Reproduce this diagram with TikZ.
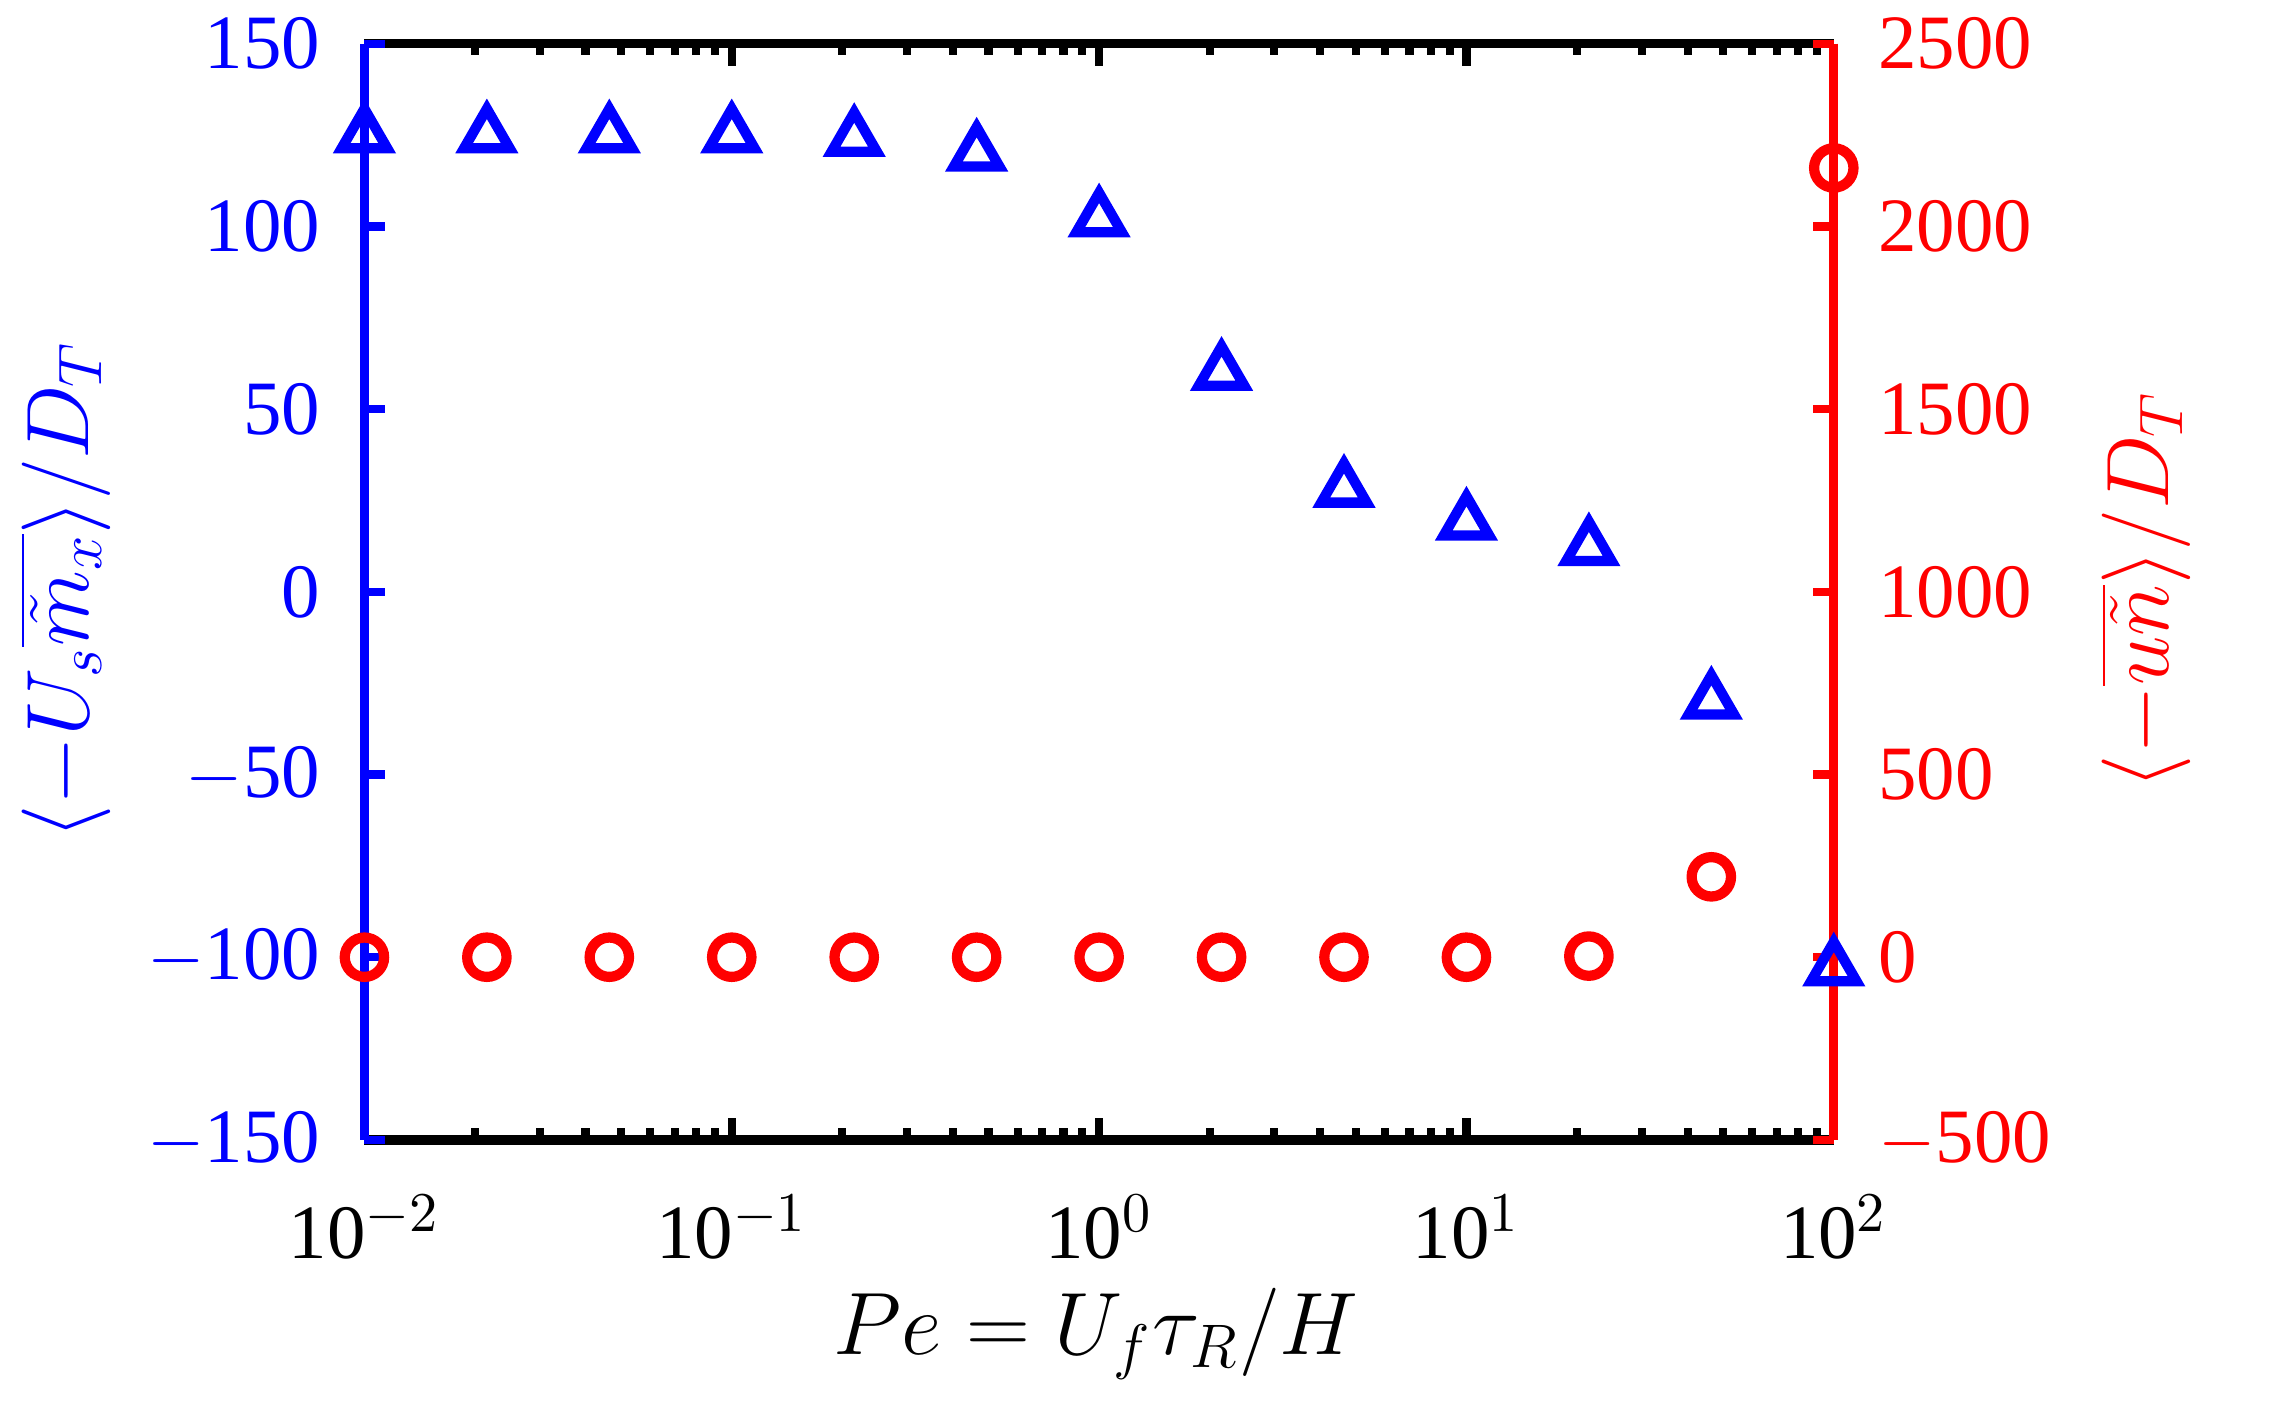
\documentclass[tikz,border=0pt]{standalone}
\usepackage{fontspec}
\setmainfont{Liberation Serif}
\usetikzlibrary{shapes.geometric}
\begin{document}
\begin{tikzpicture}[x=0.01cm,y=-0.01cm,
  tl/.style={font=\fontsize{15}{15}\selectfont},
  al/.style={font=\fontsize{17}{17}\selectfont},
  tri/.style={draw=blue,line width=2pt,regular polygon,regular polygon sides=3,minimum size=0.36cm,inner sep=0pt},
  circ/.style={draw=red,line width=2pt,circle,minimum size=0.27cm,inner sep=0pt}]
\useasboundingbox (0,0) rectangle (1560,967);
\coordinate (bl) at (250,782); \coordinate (br) at (1258,782);
\coordinate (tl0) at (250,30); \coordinate (tr) at (1258,30);
% log ticks
\foreach \d in {0,...,3}{
  \foreach \m in {2,...,9}{
    \pgfmathsetmacro\xx{250+252*(\d+log10(\m))}
    \draw[line width=1.6pt] (\xx,782) -- (\xx,774);
    \draw[line width=1.6pt] (\xx,30) -- (\xx,38);
  }}
\foreach \d in {0,...,4}{
  \pgfmathsetmacro\xx{250+252*\d}
  \draw[line width=1.6pt] (\xx,782) -- (\xx,767);
  \draw[line width=1.6pt] (\xx,30) -- (\xx,45);
  \pgfmathtruncatemacro\ee{\d-2}
  \node[tl] (xt\d) at (\xx,842) {10$^{\ee}$};
}
\draw[line width=1.8pt] (bl) -- (br);
\draw[line width=1.8pt] (tl0) -- (tr);
\draw[blue,line width=1.8pt] (bl) -- (tl0);
\draw[red,line width=1.8pt] (br) -- (tr);
\foreach \v in {-150,-100,...,150}{
  \pgfmathsetmacro\yy{782-(\v+150)*2.5067}
  \draw[blue,line width=1.6pt] (250,\yy) -- (264,\yy);
  \node[tl,blue,anchor=east] (ly\v) at (232,\yy) {\ifnum\v<0 $-$\number-\v\else\v\fi};
}
\foreach \v in {-500,0,...,2500}{
  \pgfmathsetmacro\yy{782-(\v+500)*0.25067}
  \draw[red,line width=1.6pt] (1258,\yy) -- (1244,\yy);
  \node[tl,red,anchor=west] (ry\v) at (1276,\yy) {\ifnum\v<0 $-$\number-\v\else\v\fi};
}
% data
\foreach \v [count=\i from 0] in {125,125,125,125,124,120,102,60,28,19,12,-30,-103}{
  \pgfmathsetmacro\xx{250+84*\i}
  \pgfmathsetmacro\yy{782-(\v+150)*2.5067}
  \node[tri] (t\i) at (\xx,\yy) {};
}
\foreach \v [count=\i from 0] in {0,0,0,0,0,0,0,0,0,0,3,220,2160}{
  \pgfmathsetmacro\xx{250+84*\i}
  \pgfmathsetmacro\yy{782-(\v+500)*0.25067}
  \node[circ] (c\i) at (\xx,\yy) {};
}
\node[al,blue,rotate=90] (ylab) at (45,405) {$\langle -U_s\overline{\tilde m_x}\rangle/D_T$};
\node[al,red,rotate=90] (rlab) at (1472,405) {$\langle -\overline{u\tilde n}\rangle/D_T$};
\node[al] (xlab) at (752,915) {$Pe=U_f\tau_R/H$};
\end{tikzpicture}
\end{document}
